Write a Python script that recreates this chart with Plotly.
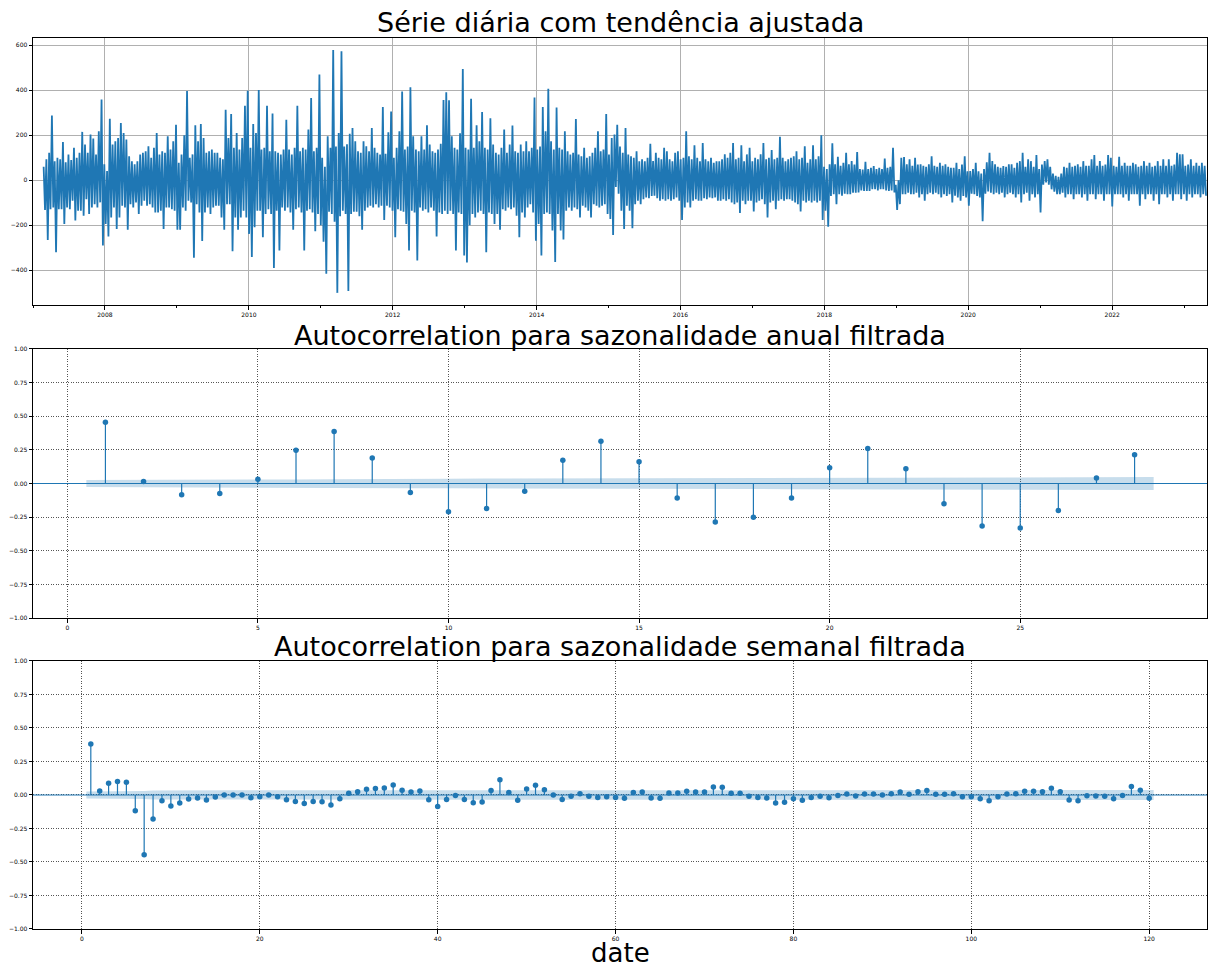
import numpy as np
import pandas as pd
import plotly.graph_objects as go

# ---------------- Top panel: detrended daily series, read from the picture as
# alternating weekly high / low extremes (one value per week, starting 2007-02-24)
series_start = "2007-02-24"
weekly_extremes = [
    # 2007 - 2010
    60, -132, 93, -265, 122, -128, 288, -121, 85, -319,
    100, -128, 93, -128, 170, -194, 80, -121, 115, -128,
    90, -91, 144, -179, 100, -135, 122, -135, 215, -157,
    159, -84, 122, -150, 203, -121, 185, -106, 115, -121,
    218, -98, 359, -290, 71, -194, 41, -250, 273, -165,
    159, -121, 173, -216, 188, -165, 254, -113, 210, -121,
    181, -220, 107, -106, 85, -121, 71, -98, 85, -150,
    115, -113, 122, -91, 129, -113, 151, -106, 100, -121,
    144, -143, 210, -143, 115, -135, 129, -216, 122, -121,
    196, -121, 137, -128, 173, -135, 247, -220, 78, -220,
    115, -121, 200, -135, 397, -91, 100, -98, 115, -344,
    244, -106, 173, -143, 250, -270, 188, -143, 122, -121,
    129, -150, 137, -121, 122, -113, 122, -113, 100, -165,
    93, -220, 313, -106, 188, -106, 294, -315, 144, -165,
    210, -220, 137, -165, 188, -135, 331, -165, 398, -238,
    144, -341, 250, -209, 210, -135, 401,
    # 2010 - 2013
    -135, 137, -253, 144, -150, 331, -128, 129, -150, 297,
    -390, 129, -135, 122, -312, 115, -121, 137, -135, 269,
    -121, 137, -143, 115, -220, 144, -128, 331, -121, 129,
    -143, 144, -312, 137, -135, 225, -128, 365, -143, 129,
    -226, 144, -150, 470, -200, 100, -273, 60, -415, 196,
    -140, 144, -150, 579, -184, 150, -500, 210, -160, 573,
    -135, 150, -150, 160, -492, 207, -150, 232, -140, 173,
    -140, 129, -160, 122, -220, 173, -135, 151, -121, 129,
    -113, 232, -121, 144, -106, 122, -121, 115, -113, 326,
    -176, 118, -113, 213, -121, 306, -135, 100, -253, 144,
    -128, 218, -135, 394, -140, 137, -194, 150, -312, 413,
    -135, 196, -143, 137, -356, 129, -121, 196, -135, 137,
    -128, 244, -143, 159, -121, 129, -135, 122, -250, 137,
    -143, 162, -150, 357, -135, 391, -150, 356, -135, 196,
    -150, 144, -312, 137, -143, 209, -150, 494, -334, 144,
    -365, 137, -200, 362, -150, 144, -165, 244, -143, 173,
    -135, 303, -150, 144, -319, 137, -143,
    # 2013 - 2016
    276, -150, 159, -194, 122, -150, 115, -220, 144, -128,
    225, -135, 122, -121, 159, -128, 243, -121, 129, -157,
    122, -253, 159, -143, 129, -165, 173, -121, 129, -106,
    144, -143, 368, -268, 137, -194, 150, -334, 325, -150,
    218, -143, 406, -150, 173, -223, 137, -363, 323, -150,
    144, -223, 137, -263, 218, -135, 129, -121, 115, -135,
    122, -121, 272, -128, 115, -165, 107, -113, 144, -121,
    100, -135, 107, -165, 122, -106, 144, -113, 218, -121,
    129, -113, 137, -106, 294, -150, 115, -172, 188, -243,
    203, -30, 247, -60, 150, -135, 122, -216, 232, -113,
    115, -135, 107, -213, 100, -106, 129, -91, 85, -106,
    93, -84, 85, -76, 100, -80, 162, -70, 85, -69,
    122, -80, 100, -91, 93, -84, 144, -91, 129, -84,
    93, -91, 85, -84, 122, -76, 129, -91, 93, -176,
    100, -121, 218, -98, 107, -121, 93, -91, 156, -84,
    100, -91, 85, -91, 166, -80, 93, -84, 85, -76,
    100, -80, 78, -76, 85, -91,
    # 2016 - 2019
    85, -91, 93, -84, 115, -91, 100, -84, 122, -98,
    166, -106, 93, -98, 100, -145, 156, -91, 85, -106,
    115, -91, 144, -91, 85, -138, 100, -98, 93, -91,
    115, -84, 166, -106, 93, -165, 100, -98, 135, -91,
    93, -128, 100, -91, 193, -84, 100, -91, 85, -84,
    93, -84, 100, -91, 107, -98, 129, -106, 93, -138,
    100, -91, 151, -98, 78, -91, 93, -98, 156, -91,
    93, -98, 107, -91, 200, -176, 60, -135, 50, -206,
    71, -70, 165, -62, 71, -106, 104, -62, 64, -69,
    78, -60, 122, -62, 71, -62, 85, -55, 70, -55,
    125, -54, 50, -45, 48, -47, 82, -47, 50, -47,
    55, -40, 63, -40, 50, -45, 56, -40, 50, -40,
    97, -45, 56, -47, 60, -45, 144, -54, -20, -132,
    0, -106, 100, -62, 103, -62, 71, -55, 93, -62,
    64, -62, 100, -55, 70, -76, 71, -62, 64, -91,
    60, -62, 71, -55, 107, -62, 64, -55, 60, -62,
    78, -76, 64, -62, 71, -70, 60,
    # 2019 - 2023
    -62, 56, -98, 56, -69, 78, -76, 50, -91, 70,
    -70, 107, -76, 40, -113, 41, -60, 50, -62, 78,
    -70, 40, -76, 30, -182, 50, -60, 80, -50, 122,
    -55, 85, -62, 71, -55, 60, -62, 56, -55, 63,
    -76, 60, -62, 71, -55, 71, -62, 56, -76, 78,
    -62, 85, -98, 122, -62, 60, -55, 93, -91, 85,
    -62, 60, -76, 112, -62, 50, -143, 70, -20, 85,
    -10, 93, -20, 60, -40, 30, -50, 20, -62, 15,
    -62, 30, -55, 60, -76, 56, -62, 78, -62, 60,
    -84, 64, -62, 71, -62, 60, -76, 85, -62, 64,
    -91, 64, -62, 93, -62, 112, -84, 64, -62, 85,
    -62, 64, -91, 70, -62, 112, -62, 100, -116, 64,
    -62, 60, -62, 104, -62, 64, -76, 78, -62, 64,
    -91, 64, -62, 78, -62, 71, -62, 60, -113, 64,
    -62, 85, -84, 64, -62, 78, -62, 60, -91, 64,
    -62, 85, -106, 64, -62, 93, -62, 64, -76, 93,
    -62, 64, -91, 70, -62, 122, -62, 115, -84, 115,
    -62, 64, -91, 70, -62, 93, -76, 64, -62, 78,
    -62, 64, -76, 78, -62, 64, -69,
]
top_xrange = ["2007-01-01", "2023-04-27"]
top_yticks = [-400, -200, 0, 200, 400, 600]

# ---------------- Middle panel: ACF (annual seasonality filtered)
annual_lags = list(range(1, 29))
annual_acf = [0.455, 0.015, -0.084, -0.074, 0.032, 0.248, 0.386, 0.19, -0.067, -0.21,
              -0.186, -0.057, 0.173, 0.314, 0.162, -0.107, -0.286, -0.25, -0.107, 0.117,
              0.26, 0.11, -0.15, -0.316, -0.33, -0.2, 0.04, 0.214]

# ---------------- Bottom panel: ACF (weekly seasonality filtered)
weekly_lags = list(range(1, 121))
weekly_acf = [
    0.38, 0.03, 0.088, 0.10, 0.095, -0.118, -0.445, -0.18, -0.043, -0.083,
    -0.06, -0.03, -0.023, -0.038, -0.015, 0.0, 0.0, 0.0, -0.02, -0.013,
    0.0, -0.013, -0.035, -0.048, -0.063, -0.048, -0.05, -0.075, -0.028, 0.013,
    0.025, 0.043, 0.048, 0.053, 0.075, 0.035, 0.023, 0.03, -0.035, -0.085,
    -0.033, -0.003, -0.033, -0.058, -0.053, 0.033, 0.113, 0.018, -0.04, 0.045,
    0.073, 0.04, 0.0, -0.033, -0.01, 0.01, -0.01, -0.018, -0.013, -0.018,
    -0.025, 0.018, 0.023, -0.023, -0.025, 0.015, 0.015, 0.028, 0.023, 0.023,
    0.06, 0.058, 0.013, 0.013, -0.01, -0.018, -0.023, -0.06, -0.055, -0.028,
    -0.04, -0.018, -0.01, -0.02, -0.003, 0.008, -0.008, 0.008, 0.008, 0.0,
    0.01, 0.023, 0.005, 0.025, 0.033, 0.005, 0.005, 0.01, -0.013, -0.013,
    -0.028, -0.043, -0.013, 0.008, 0.01, 0.028, 0.028, 0.025, 0.05, 0.025,
    -0.038, -0.043, -0.005, -0.008, -0.01, -0.028, -0.003, 0.063, 0.035, -0.025,
]
n_obs = 5900  # approximate number of daily observations behind the ACFs

BLUE = "#1f77b4"
FONT = "DejaVu Sans"


def bartlett_band(acf, n):
    r = np.asarray(acf, dtype=float)
    s = np.concatenate([[0.0], np.cumsum(r[:-1] ** 2)])
    return 1.96 * np.sqrt((1 + 2 * s) / n)


fig = go.Figure()

# --- top panel
week_dates = pd.date_range(series_start, periods=len(weekly_extremes), freq="7D")
fig.add_trace(go.Scatter(x=week_dates, y=weekly_extremes, mode="lines",
                         line=dict(color=BLUE, width=1.8),
                         xaxis="x", yaxis="y", showlegend=False))


def add_acf(lags, acf, xa, ya):
    conf = bartlett_band(acf, n_obs)
    bx = [lags[0] - 0.5] + list(lags) + [lags[-1] + 0.5]
    up = [conf[0]] + list(conf) + [conf[-1]]
    fig.add_trace(go.Scatter(
        x=bx + bx[::-1], y=up + [-u for u in up[::-1]], fill="toself",
        fillcolor="rgba(31,119,180,0.25)", line=dict(width=0), mode="lines",
        xaxis=xa, yaxis=ya, hoverinfo="skip", showlegend=False))
    vx, vy = [], []
    for l, a in zip(lags, acf):
        vx += [l, l, None]
        vy += [0, a, None]
    fig.add_trace(go.Scatter(x=vx, y=vy, mode="lines", line=dict(color=BLUE, width=1.2),
                             xaxis=xa, yaxis=ya, showlegend=False))
    fig.add_trace(go.Scatter(x=lags, y=acf, mode="markers",
                             marker=dict(color=BLUE, size=5.5),
                             xaxis=xa, yaxis=ya, showlegend=False))
    fig.add_shape(type="line", xref=f"{xa} domain", yref=ya, x0=0, x1=1, y0=0, y1=0,
                  line=dict(color=BLUE, width=1.2))


add_acf(annual_lags, annual_acf, "x2", "y2")
add_acf(weekly_lags, weekly_acf, "x3", "y3")

axis_common = dict(showline=True, mirror=True, linecolor="black", linewidth=1,
                   ticks="outside", ticklen=3.5, tickwidth=0.8, tickcolor="black",
                   tickfont=dict(size=6, color="black", family=FONT), zeroline=False,
                   automargin=False)
acf_grid = dict(showgrid=True, gridcolor="#555555", gridwidth=0.8, griddash="1px,1.5px")

fig.update_layout(
    width=1208, height=967,
    margin=dict(l=33, r=1, t=38, b=38),
    paper_bgcolor="white", plot_bgcolor="white",
    font=dict(family=FONT, color="black"),
    xaxis=dict(domain=[0, 1], anchor="y", type="date", range=top_xrange,
               tick0="2008-01-01", dtick="M24", tickformat="%Y",
               showgrid=True, gridcolor="#b0b0b0", gridwidth=1,
               minor=dict(ticks="outside", ticklen=2, tickcolor="black", tickwidth=0.6,
                          dtick="M12", tick0="2007-01-01", showgrid=False),
               **axis_common),
    yaxis=dict(domain=[0.7003, 1], anchor="x", range=[-554, 632], tickvals=top_yticks,
               showgrid=True, gridcolor="#b0b0b0", gridwidth=1, **axis_common),
    xaxis2=dict(domain=[0, 1], anchor="y2", range=[-0.9, 29.9], tick0=0, dtick=5,
                **acf_grid, **axis_common),
    yaxis2=dict(domain=[0.3490, 0.6510], anchor="x2", range=[-1, 1], dtick=0.25,
                tickformat=".2f", **acf_grid, **axis_common),
    xaxis3=dict(domain=[0, 1], anchor="y3", range=[-5.5, 126.5], tick0=0, dtick=20,
                **acf_grid, **axis_common),
    yaxis3=dict(domain=[0, 0.3008], anchor="x3", range=[-1, 1], dtick=0.25,
                tickformat=".2f", **acf_grid, **axis_common),
)

titles = [
    ("Série diária com tendência ajustada", 1.0, -2, 27),
    ("Autocorrelation para sazonalidade anual filtrada", 0.6476, -1, 27),
    ("Autocorrelation para sazonalidade semanal filtrada", 0.2985, -1, 27),
    ("date", -0.0494, 3, 26),
]
for txt, yy, sh, fs in titles:
    fig.add_annotation(text=txt, x=0.5, y=yy, xref="paper", yref="paper",
                       xanchor="center", yanchor="bottom", showarrow=False,
                       yshift=sh, font=dict(size=fs, family=FONT, color="black"))

fig.write_html("out.html", config={"displayModeBar": False},
               post_script="document.body.style.margin='0px';"
                           "document.body.style.overflow='hidden';")
